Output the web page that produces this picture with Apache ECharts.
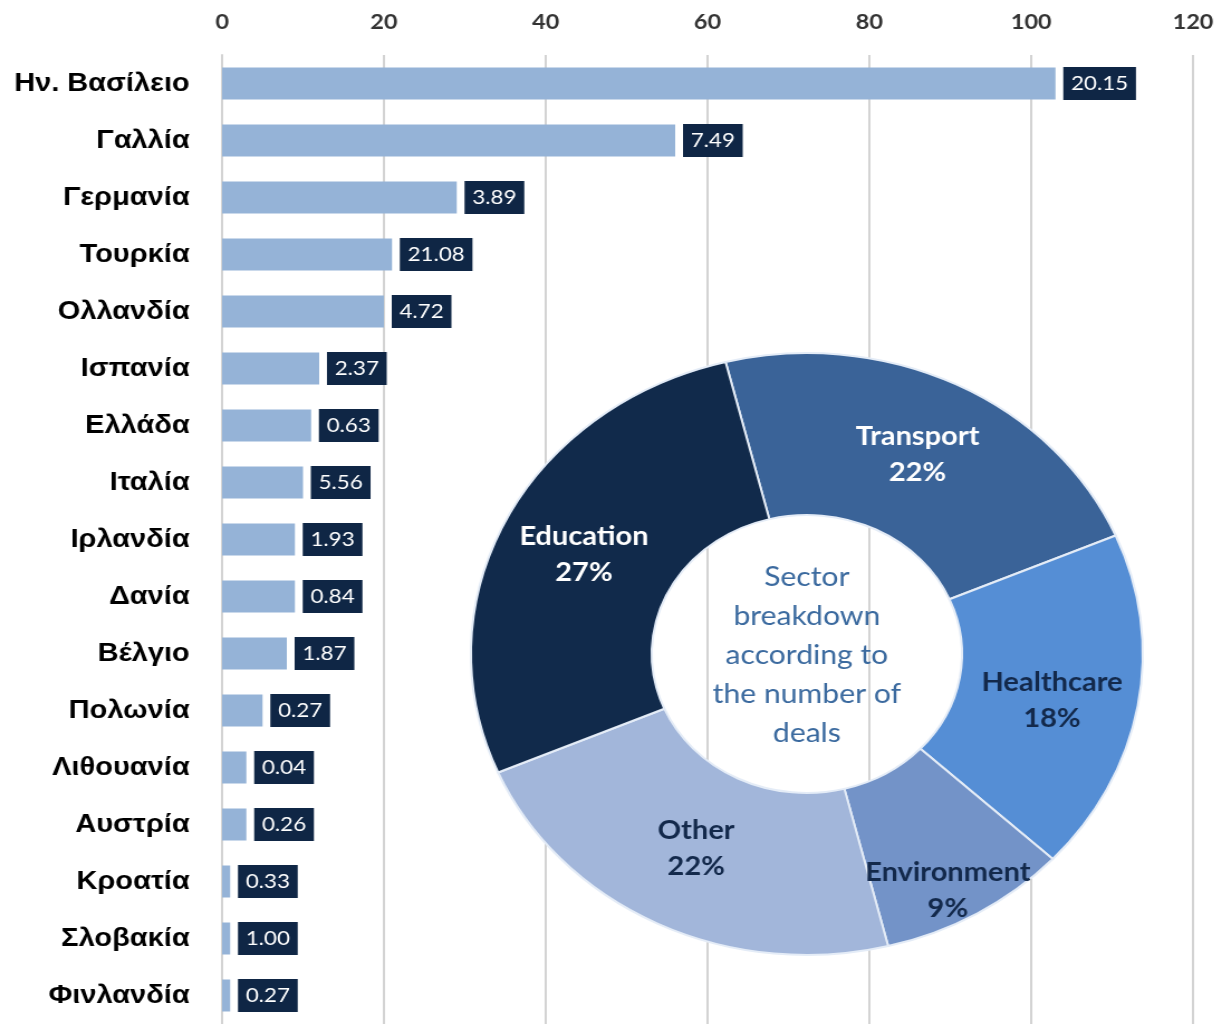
<!DOCTYPE html>
<html>
<head>
<meta charset="utf-8">
<script src="https://cdn.jsdelivr.net/npm/echarts@6/dist/echarts.min.js"></script>
<style>
html,body{margin:0;padding:0;background:#fff;overflow:hidden;width:1232px;height:1024px;}
#chart{position:absolute;left:0;top:0;width:1104px;height:1024px;transform:scaleX(1.116);transform-origin:0 0;}
</style>
</head>
<body>
<div id="chart"></div>
<script>
// ---- data ----
const countries = ["Ην. Βασίλειο","Γαλλία","Γερμανία","Τουρκία","Ολλανδία","Ισπανία","Ελλάδα","Ιταλία","Ιρλανδία","Δανία","Βέλγιο","Πολωνία","Λιθουανία","Αυστρία","Κροατία","Σλοβακία","Φινλανδία"];
const deals = [103, 56, 29, 21, 20, 12, 11, 10, 9, 9, 8, 5, 3, 3, 1, 1, 1];
const valueLabels = ["20.15","7.49","3.89","21.08","4.72","2.37","0.63","5.56","1.93","0.84","1.87","0.27","0.04","0.26","0.33","1.00","0.27"];
const xTicks = [0, 20, 40, 60, 80, 100, 120];
const sectors = ["Transport","Healthcare","Environment","Other","Education"];
const sectorShares = [22, 18, 9, 22, 27];
const centerText = "Sector\nbreakdown\naccording to\nthe number of\ndeals";

const sectorColors = ["#3a6398","#558ed5","#7393c8","#a2b6da","#112a4b"];
const sectorLabelColors = ["#ffffff","#13294b","#13294b","#13294b","#ffffff"];

const chart = echarts.init(document.getElementById('chart'), null, {renderer:'canvas'});

const option = {
  backgroundColor: '#ffffff',
  animation: false,
  grid: {left: 199, right: 35, top: 55, height: 970, containLabel: false},
  xAxis: {
    type: 'value', position: 'top', min: xTicks[0], max: xTicks[xTicks.length-1], interval: 20,
    axisLine: {show: false}, axisTick: {show: false},
    axisLabel: {margin: 22, fontFamily: 'Lato', fontWeight: 'bold', fontSize: 21, color: '#333333'},
    splitLine: {show: true, lineStyle: {color: '#d3d3d3', width: 2}}
  },
  yAxis: {
    type: 'category', data: countries, inverse: true,
    axisLine: {show: true, lineStyle: {color: '#d3d3d3', width: 2}},
    axisTick: {show: false},
    axisLabel: {margin: 29, fontFamily: 'Liberation Sans', fontWeight: 'bold', fontSize: 26, color: '#000000'}
  },
  graphic: [{
    type: 'text', x: 723, y: 655, z: 20,
    style: {text: centerText, textAlign: 'center', textVerticalAlign: 'middle',
      font: 'normal 27px Lato', lineHeight: 39, fill: '#3b6a9f'}
  }],
  series: [
    {
      type: 'bar', data: deals, barWidth: 32,
      itemStyle: {color: '#95b3d7'},
      label: {
        show: true, position: 'right', distance: 7,
        formatter: p => valueLabels[p.dataIndex],
        backgroundColor: '#0f2645', color: '#ffffff',
        padding: [6, 7, 6, 7], fontSize: 20, lineHeight: 21, fontFamily: 'Lato'
      }
    },
    {
      type: 'pie', z: 5, center: [723, 654], radius: [139, 301],
      startAngle: 104, clockwise: true,
      data: sectors.map((s, i) => ({
        name: s, value: sectorShares[i],
        itemStyle: {color: sectorColors[i]},
        label: {color: sectorLabelColors[i]}
      })),
      itemStyle: {borderColor: '#e4ecf7', borderWidth: 2},
      label: {
        show: true, position: 'inside', formatter: '{b}\n{c}%',
        fontFamily: 'Lato', fontWeight: 'bold', fontSize: 26, lineHeight: 36
      },
      labelLayout: function (params) {
        if (params.dataIndex === 2) return {dx: 13, dy: 45};
        if (params.dataIndex === 1) return {dy: 8};
        if (params.dataIndex === 3) return {dy: -5};
        return {};
      },
      labelLine: {show: false},
      emphasis: {disabled: true}
    }
  ]
};
chart.setOption(option);
</script>
</body>
</html>
